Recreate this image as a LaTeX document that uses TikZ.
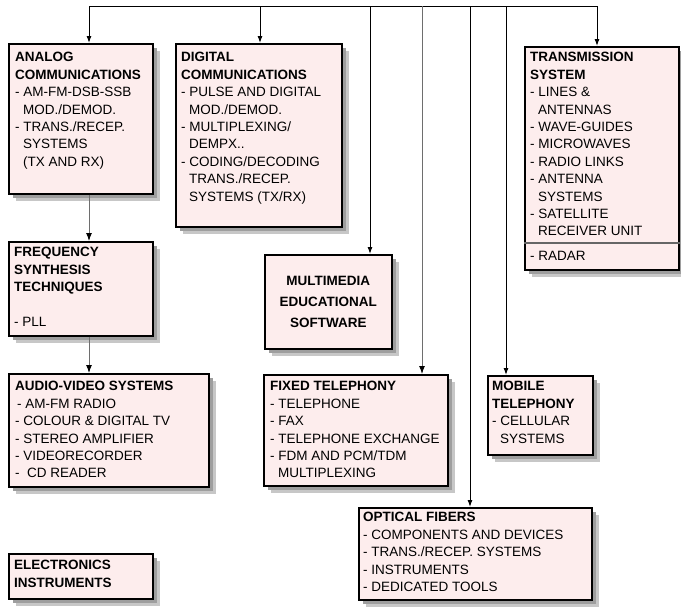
\documentclass[tikz,border=0pt]{standalone}
\usepackage{fontspec}
\setmainfont{Liberation Sans}
\usetikzlibrary{shadows,arrows.meta,calc}
\definecolor{boxfill}{RGB}{253,237,237}
\definecolor{linegray}{RGB}{110,110,110}
\newcommand\myind{\hspace*{8pt}}
\tikzset{
  box/.style={draw=black, line width=1.5pt, fill=boxfill, anchor=north west, inner sep=0pt,
    general shadow={shadow xshift=7pt, shadow yshift=-7pt, fill=black!22},
    general shadow={shadow xshift=4.5pt, shadow yshift=-4.5pt, fill=black!38}},
  txt/.style={anchor=north west, inner sep=0pt, align=left, font=\fontsize{13.5pt}{17.4pt}\selectfont},
  ctxt/.style={inner sep=0pt, align=center, font=\bfseries\fontsize{13.5pt}{21pt}\selectfont},
  conn/.style={line width=1pt, draw=black},
  arr/.style={conn, -{Latex[length=7pt,width=5pt]}},
  arrg/.style={line width=1pt, linegray, -{Latex[length=8pt,width=6pt,black]}},
}
\begin{document}
\begin{tikzpicture}[x=1pt,y=-1pt]
\useasboundingbox (0,0) rectangle (681,608);

% boxes
\node[box, minimum width=144pt, minimum height=150pt] (analog) at (8,43) {};
\node[box, minimum width=166pt, minimum height=183pt] (digital) at (175,43) {};
\node[box, minimum width=154pt, minimum height=223pt] (trans) at (524,46) {};
\node[box, minimum width=144pt, minimum height=94pt] (freq) at (8,241) {};
\node[box, minimum width=200pt, minimum height=113pt] (audio) at (8,373) {};
\node[box, minimum width=127pt, minimum height=94pt] (multi) at (264,254) {};
\node[box, minimum width=184pt, minimum height=111pt] (fixed) at (263,374) {};
\node[box, minimum width=105pt, minimum height=79pt] (mobile) at (487,375) {};
\node[box, minimum width=233pt, minimum height=92pt] (optical) at (358,507) {};
\node[box, minimum width=144pt, minimum height=45pt] (elec) at (8,553) {};

% separator in transmission box
\draw[draw=black!60, line width=1.2pt] ($(trans.north west)+(0,197)$) -- ($(trans.north east)+(0,197)$);

% texts
\node[txt] (analogT) at ($(analog.north west)+(7,9.3)$)
  {\textbf{ANALOG}\\\textbf{COMMUNICATIONS}\\- AM-FM-DSB-SSB\\\myind MOD./DEMOD.\\- TRANS./RECEP.\\\myind SYSTEMS\\\myind (TX AND RX)};
\node[txt] (digitalT) at ($(digital.north west)+(6,9.3)$)
  {\textbf{DIGITAL}\\\textbf{COMMUNICATIONS}\\- PULSE AND DIGITAL\\\myind MOD./DEMOD.\\- MULTIPLEXING/\\\myind DEMPX..\\- CODING/DECODING\\\myind TRANS./RECEP.\\\myind SYSTEMS (TX/RX)};
\node[txt] (transT) at ($(trans.north west)+(6,6.3)$)
  {\textbf{TRANSMISSION}\\\textbf{SYSTEM}\\- LINES \&\\\myind ANTENNAS\\- WAVE-GUIDES\\- MICROWAVES\\- RADIO LINKS\\- ANTENNA\\\myind SYSTEMS\\- SATELLITE\\\myind RECEIVER UNIT};
\node[txt] (radarT) at ($(trans.north west)+(6,205.5)$) {- RADAR};
\node[txt] (freqT) at ($(freq.north west)+(6,6.3)$)
  {\textbf{FREQUENCY}\\\textbf{SYNTHESIS}\\\textbf{TECHNIQUES}\\[17.4pt]- PLL};
\node[txt] (audioT) at ($(audio.north west)+(7,8.3)$)
  {\textbf{AUDIO-VIDEO SYSTEMS}\\\hspace*{2pt}- AM-FM RADIO\\- COLOUR \& DIGITAL TV\\- STEREO AMPLIFIER\\- VIDEORECORDER\\-\ \ CD READER};
\node[ctxt] (multiT) at (multi.center) {MULTIMEDIA\\EDUCATIONAL\\SOFTWARE};
\node[txt] (fixedT) at ($(fixed.north west)+(7,7.3)$)
  {\textbf{FIXED TELEPHONY}\\- TELEPHONE\\- FAX\\- TELEPHONE EXCHANGE\\- FDM AND PCM/TDM\\\myind MULTIPLEXING};
\node[txt] (mobileT) at ($(mobile.north west)+(5,6.3)$)
  {\textbf{MOBILE}\\\textbf{TELEPHONY}\\- CELLULAR\\\myind SYSTEMS};
\node[txt] (opticalT) at ($(optical.north west)+(5,5.3)$)
  {\textbf{OPTICAL FIBERS}\\- COMPONENTS AND DEVICES\\- TRANS./RECEP. SYSTEMS\\- INSTRUMENTS\\- DEDICATED TOOLS};
\node[txt] (elecT) at ($(elec.north west)+(6,7.3)$)
  {\textbf{ELECTRONICS}\\\textbf{INSTRUMENTS}};

% connectors
\coordinate (b1) at (89,6);
\coordinate (b2) at (260,6);
\coordinate (b3) at (370,6);
\coordinate (b4) at (422,6);
\coordinate (b5) at (470,6);
\coordinate (b6) at (506,6);
\coordinate (b7) at (597,6);
\draw[conn] (b1) -- (b7);
\draw[arr] (b1) -- (b1 |- analog.north);
\draw[arr] (b2) -- (b2 |- digital.north);
\draw[arr] (b3) -- (b3 |- multi.north);
\draw[arrg] (b4) -- (b4 |- fixed.north);
\draw[arr] (b5) -- (b5 |- optical.north);
\draw[arr] (b6) -- (b6 |- mobile.north);
\draw[arr] (b7) -- (b7 |- trans.north);
\draw[arrg] (analog.south -| b1) -- (freq.north -| b1);
\draw[arrg] (freq.south -| b1) -- (audio.north -| b1);
\end{tikzpicture}
\end{document}
